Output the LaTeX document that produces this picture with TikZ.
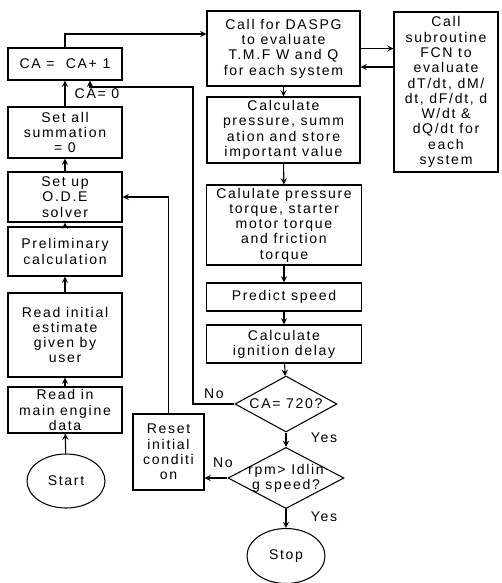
\documentclass[tikz,border=0pt]{standalone}
\usepackage{fontspec}
\setmainfont{Liberation Sans}[LetterSpace=12]
\usetikzlibrary{shapes.geometric}

\begin{document}
\begin{tikzpicture}[x=0.02cm,y=-0.02cm,line width=0.6pt,>=stealth,
    every node/.style={font=\fontsize{8}{8.7}\selectfont},
    taille/.style 2 args={minimum width=#1*0.02cm,minimum height=#2*0.02cm},
    boite/.style={draw,align=center,inner sep=0pt},
    losange/.style={draw,diamond,align=center,inner sep=0pt,aspect=1.85},
    ovale/.style={draw,ellipse,inner sep=0pt}]
    \useasboundingbox (0,0) rectangle (502,583);

    % Colonne de gauche
    \node[boite,taille={114}{32}] (ca) at (65,64) {CA =\ \ CA+ 1};
    \node[boite,taille={114}{51}] (somme) at (65,132.5) {Set all\\summation\\= 0};
    \node[boite,taille={114}{50}] (ode) at (65,197) {Set up\\O.D.E\\solver};
    \node[boite,taille={114}{49}] (prelim) at (65,251.5) {Preliminary\\calculation};
    \node[boite,taille={114}{84}] (estime) at (65,335) {Read initial\\estimate\\given by\\user};
    \node[boite,taille={114}{46}] (donnees) at (65,410) {Read in\\main engine\\data};
    \node[ovale,taille={78}{54}] (start) at (66,481) {Start};

    % Colonne de droite
    \node[boite,taille={153}{75}] (daspg) at (283.5,48.5) {Call for DASPG\\to evaluate\\T.M.F W and Q\\for each system};
    \node[boite,taille={104}{160}] (fcn) at (446,92) {Call\\subroutine\\FCN to\\evaluate\\dT/dt, dM/\\dt, dF/dt, d\\W/dt \&\\dQ/dt for\\each\\system};
    \node[boite,taille={153}{66}] (pression) at (283.5,130) {Calculate\\pressure, summ\\ation and store\\important value};
    \node[boite,taille={155}{80}] (couple) at (284,225) {Calulate pressure\\torque, starter\\motor torque\\and friction\\torque};
    \node[boite,taille={155}{28}] (vitesse) at (284,297) {Predict speed};
    \node[boite,taille={155}{38}] (allumage) at (284,344) {Calculate\\ignition delay};
    \node[losange,taille={102}{56}] (test1) at (286,404) {CA= 720?};
    \node[losange,taille={116}{60},inner sep=-1.5pt] (test2) at (286,478) {rpm> Idlin\\g speed?};
    \node[boite,taille={71}{76}] (reset) at (168.5,452) {Reset\\initial\\conditi\\on};
    \node[ovale,taille={78}{55}] (stop) at (286,556) {Stop};

    % Dessine les flèches
    \draw[->] (start) -- (donnees);
    \draw[->] (donnees) -- (estime);
    \draw[->] (estime) -- (prelim);
    \draw[->] (prelim) -- (ode);
    \draw[->] (ode) -- (somme);
    \draw[->] (somme) -- (ca);
    \draw[->] (ca.north) |- (daspg.west |- 0,34);
    \draw[->] (daspg.east) -- (daspg.east -| fcn.west);
    \draw[->] (fcn.west |- 0,67) -- (daspg.east |- 0,67);
    \draw[->] (daspg) -- (pression);
    \draw[->] (pression) -- (couple);
    \draw[->] (couple) -- (vitesse);
    \draw[->] (vitesse) -- (allumage);
    \draw[->] (allumage) -- (test1);
    \draw[->] (test1) -- (test2);
    \draw[->] (test2) -- (stop);
    \draw[->] (test2.west) -- (test2.west -| reset.east);
    \draw[->] (reset.north) |- (ode.east);
    \node (oui1) at (324,438) {Yes};
    \node (oui2) at (324,517) {Yes};
    \node (non2) at (223,463) {No};

    % Retour CA = 0
    \coordinate (boucle) at (193,87);
    \draw[->] (test1.west) -| (boucle) -| (ca.south -| 90,0);
    \node (non1) at (214,394) {No};
    \node (raz) at (97,94) {CA= 0};

\end{tikzpicture}
\end{document}
